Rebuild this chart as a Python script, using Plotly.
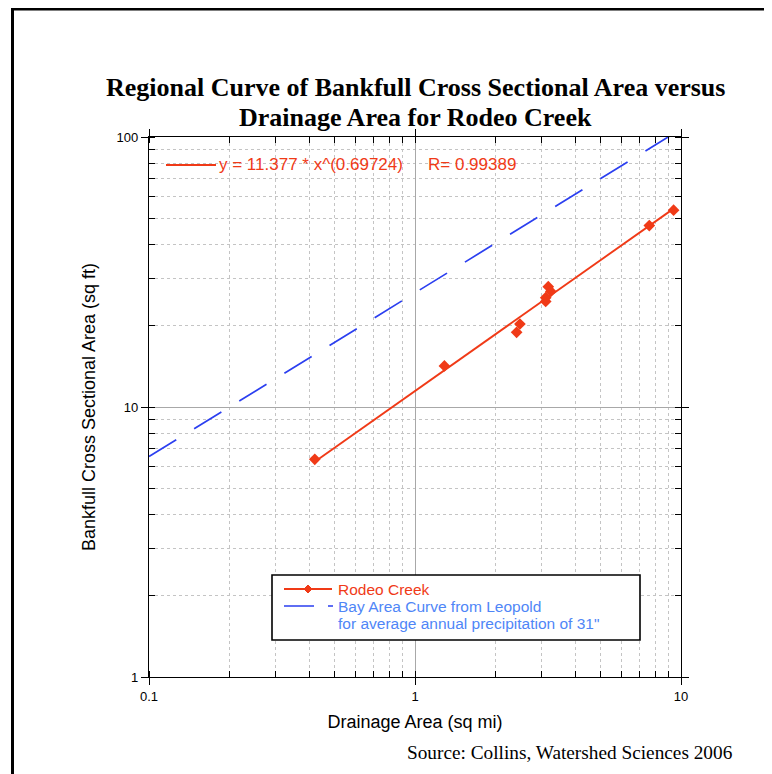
import plotly.graph_objects as go

# ---- data ----
rodeo_x = [0.42, 1.29, 2.41, 2.48, 3.10, 3.10, 3.17, 3.24, 7.6, 9.38]
rodeo_y = [6.4, 14.2, 18.9, 20.3, 24.6, 25.4, 27.9, 26.8, 47.0, 53.6]

# power-law fit line (straight on log-log), endpoints
fit_x = [0.42, 9.38]
fit_y = [6.27, 54.3]

# Leopold Bay Area curve (straight on log-log), endpoints
bay_x = [0.1, 10.0]
bay_y = [6.55, 107.0]

x_ticks = [0.1, 1, 10]
y_ticks = [1, 10, 100]

legend_names = ["Rodeo Creek", "Bay Area Curve from Leopold",
                "for average annual precipitation of 31\""]

RED = "#f03a17"
BLUE = "#2b3ff0"
BLUE_TXT = "#4f86f7"

# page geometry (the page body adds an 8px offset)
OFF = 8
PL, PR, PT, PB = 149, 681, 137, 677   # plot area in page pixels
W, H = 772 - OFF, 774 - OFF
PW, PH = PR - PL, PB - PT


def px(xp):
    return (xp - PL) / PW


def py(yp):
    return (PB - yp) / PH


fig = go.Figure()

fig.add_trace(go.Scatter(x=bay_x, y=bay_y, mode="lines", name="Bay Area Curve from Leopold",
                         line=dict(color=BLUE, width=1.7, dash="32px,21px"),
                         showlegend=False, hoverinfo="skip"))
fig.add_trace(go.Scatter(x=fit_x, y=fit_y, mode="lines", name="fit",
                         line=dict(color=RED, width=1.9),
                         showlegend=False))
fig.add_trace(go.Scatter(x=rodeo_x, y=rodeo_y, mode="markers", name="Rodeo Creek",
                         marker=dict(symbol="diamond", color=RED, size=9),
                         showlegend=False))

SANS = "Liberation Sans, Arial"
SERIF = "Liberation Serif, Times New Roman"
tickfont = dict(family=SANS, size=13, color="black")

common = dict(type="log", showline=True, linecolor="black", linewidth=1.3,
              mirror="allticks", ticks="outside", ticklen=7, tickcolor="black",
              tickwidth=1, dtick=1, tickfont=tickfont,
              showgrid=True, gridcolor="#a8a8a8", gridwidth=1, zeroline=False,
              minor=dict(ticks="inside", ticklen=6, tickcolor="black", dtick="D1",
                         showgrid=True, gridcolor="#c4c4c4", griddash="dot",
                         gridwidth=1))

fig.update_layout(
    width=W, height=H,
    paper_bgcolor="white", plot_bgcolor="white",
    margin=dict(l=PL - OFF, r=W - (PR - OFF), t=PT - OFF, b=H - (PB - OFF)),
    xaxis=dict(range=[-1, 1], **common,
               title=dict(text="Drainage Area (sq mi)", standoff=12,
                          font=dict(family=SANS, size=18, color="black"))),
    yaxis=dict(range=[0, 2], **common,
               title=dict(text="Bankfull Cross Sectional Area (sq ft)", standoff=16,
                          font=dict(family=SANS, size=18, color="black"))),
    xaxis2=dict(type="log", range=[-1, 1], overlaying="x", side="bottom",
                showline=False, showgrid=False, ticks="inside", ticklen=6,
                tickcolor="black", mirror="allticks", dtick=1,
                showticklabels=False, zeroline=False),
    yaxis2=dict(type="log", range=[0, 2], overlaying="y", side="left",
                showline=False, showgrid=False, ticks="inside", ticklen=6,
                tickcolor="black", mirror="allticks", dtick=1,
                showticklabels=False, zeroline=False),
    showlegend=False,
)

# dummy trace to anchor overlay axes
fig.add_trace(go.Scatter(x=[None], y=[None], xaxis="x2", yaxis="y2", showlegend=False))

# two-line title
title_font = dict(family=SERIF, size=26, color="black", weight="bold")
fig.add_annotation(xref="paper", yref="paper", x=0.5, y=py(88), xanchor="center",
                   yanchor="middle", showarrow=False, font=title_font,
                   text="Regional Curve of Bankfull Cross Sectional Area versus")
fig.add_annotation(xref="paper", yref="paper", x=0.5, y=py(117), xanchor="center",
                   yanchor="middle", showarrow=False, font=title_font,
                   text="Drainage Area for Rodeo Creek")

# equation label with line sample
fig.add_shape(type="line", xref="paper", yref="paper",
              x0=px(166), x1=px(216), y0=py(165), y1=py(165),
              line=dict(color=RED, width=1.8))
fig.add_annotation(xref="paper", yref="paper", x=px(217), y=py(165),
                   xanchor="left", yanchor="middle", showarrow=False,
                   text="y = 11.377 * x^(0.69724)",
                   font=dict(family=SANS, size=17, color=RED))
fig.add_annotation(xref="paper", yref="paper", x=px(426), y=py(165),
                   xanchor="left", yanchor="middle", showarrow=False,
                   text="R= 0.99389",
                   font=dict(family=SANS, size=17, color=RED))

# ---- legend box (drawn) ----
fig.add_shape(type="rect", xref="paper", yref="paper",
              x0=px(272), x1=px(640), y0=py(640), y1=py(575),
              line=dict(color="black", width=1.6), fillcolor="white", layer="above")
fig.add_shape(type="line", xref="paper", yref="paper",
              x0=px(284), x1=px(332), y0=py(589), y1=py(589),
              line=dict(color=RED, width=1.8), layer="above")
# diamond marker sample
cx, cy, r = 308, 589, 4
fig.add_shape(type="path", xref="paper", yref="paper", layer="above",
              path=(f"M {px(cx - r)} {py(cy)} L {px(cx)} {py(cy - r)} "
                    f"L {px(cx + r)} {py(cy)} L {px(cx)} {py(cy + r)} Z"),
              fillcolor=RED, line=dict(color=RED, width=1))
fig.add_shape(type="line", xref="paper", yref="paper",
              x0=px(284), x1=px(333), y0=py(606), y1=py(606),
              line=dict(color=BLUE, width=1.7, dash="30px,14px"), layer="above")
leg_font = 15.5
fig.add_annotation(xref="paper", yref="paper", x=px(336), y=py(589),
                   xanchor="left", yanchor="middle", showarrow=False,
                   text=legend_names[0], font=dict(family=SANS, size=leg_font, color=RED))
fig.add_annotation(xref="paper", yref="paper", x=px(336), y=py(606),
                   xanchor="left", yanchor="middle", showarrow=False,
                   text=legend_names[1], font=dict(family=SANS, size=leg_font, color=BLUE_TXT))
fig.add_annotation(xref="paper", yref="paper", x=px(336), y=py(623),
                   xanchor="left", yanchor="middle", showarrow=False,
                   text=legend_names[2], font=dict(family=SANS, size=leg_font, color=BLUE_TXT))

# source note
fig.add_annotation(xref="paper", yref="paper", x=px(735), y=py(752),
                   xanchor="right", yanchor="middle", showarrow=False,
                   text="Source: Collins, Watershed Sciences 2006",
                   font=dict(family=SERIF, size=19.3, color="black"))

# outer page frame
fig.add_shape(type="rect", xref="paper", yref="paper",
              x0=px(12.5), x1=1.4, y0=-0.4, y1=py(9),
              line=dict(color="black", width=3), layer="below")

fig.write_html("out.html")
